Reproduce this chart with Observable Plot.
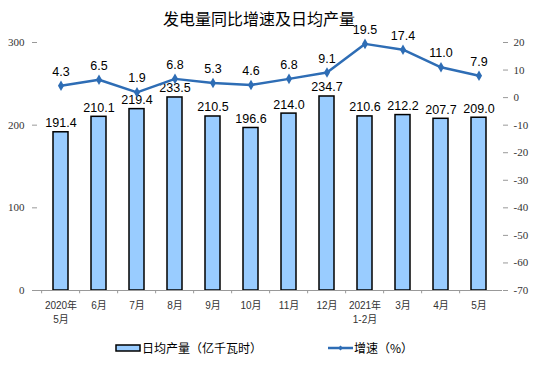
<!DOCTYPE html>
<html><head><meta charset="utf-8">
<script src="https://cdn.jsdelivr.net/npm/d3@7"></script>
<script src="https://cdn.jsdelivr.net/npm/@observablehq/plot@0.6"></script>
<style>
body{margin:0;background:#fff;width:554px;height:381px;overflow:hidden;font-family:"Liberation Sans","Noto Sans CJK SC",sans-serif;}
#title{height:20px;position:relative;z-index:2;}
#title span{position:absolute;left:163px;top:6px;font-family:"Noto Sans CJK SC";font-size:16px;color:#000;white-space:nowrap;}
#chart{height:315px;position:relative;z-index:1;}
#chart svg{background:transparent;}
#legend{position:relative;height:46px;font-family:"Noto Sans CJK SC";font-size:12px;color:#000;}
.lg{position:absolute;top:4px;display:flex;align-items:center;white-space:nowrap;}
</style></head>
<body>
<div id="title"><span>发电量同比增速及日均产量</span></div>
<div id="chart"></div>
<div id="legend">
  <div class="lg" style="left:115px"><svg width="27" height="10"><rect x="1" y="2" width="24" height="6" fill="#99ccff" stroke="#000" stroke-width="1.5"/></svg><span>日均产量（亿千瓦时）</span></div>
  <div class="lg" style="left:328px"><svg width="26" height="10"><line x1="0" y1="5" x2="25" y2="5" stroke="#2e6db5" stroke-width="2.5"/><path d="M12.5,2.5L15,5L12.5,7.5L10,5Z" fill="#2e6db5"/></svg><span>增速（%）</span></div>
</div>
<script>
const categories = ["2020年\n5月","6月","7月","8月","9月","10月","11月","12月","2021年\n1-2月","3月","4月","5月"];
const dailyOutput = [191.4,210.1,219.4,233.5,210.5,196.6,214.0,234.7,210.6,212.2,207.7,209.0];
const growth = [4.3,6.5,1.9,6.8,5.3,4.6,6.8,9.1,19.5,17.4,11.0,7.9];
const leftTicks = [0,100,200,300];
const rightTicks = [20,10,0,-10,-20,-30,-40,-50,-60,-70];

const gMin = -70, gMax = 20, yMax = 300;
const toY = g => (g - gMin) * yMax / (gMax - gMin);
const fromY = v => Math.round(v * (gMax - gMin) / yMax + gMin);

const barData = categories.map((c,i)=>({c, v: dailyOutput[i]}));
const lineData = categories.map((c,i)=>({c, g: growth[i], y: toY(growth[i])}));

const width = 554, mL = 37, mR = 52;
const step = (width - mL - mR) / categories.length;
const lineColor = "#2e6db5";

const chart = Plot.plot({
  width, height: 315,
  marginLeft: mL, marginRight: mR, marginTop: 22, marginBottom: 45,
  style: {fontFamily: "Liberation Sans, sans-serif", background: "transparent"},
  x: {domain: categories, paddingInner: 0.6, paddingOuter: 0.3, label: null},
  y: {domain: [0, yMax], label: null},
  marks: [
    Plot.ruleX(categories, {x: d => d, y1: 0, y2: -4, dx: -step/2, stroke: "#999"}),
    Plot.barY(barData, {x: "c", y: "v", fill: "#99ccff", stroke: "#000", strokeWidth: 1.5}),
    Plot.text(barData, {x: "c", y: "v", text: d => d.v.toFixed(1), dy: -9, fontSize: 12.5, fill: "#000"}),
    Plot.line(lineData, {x: "c", y: "y", stroke: lineColor, strokeWidth: 2.5}),
    Plot.dot(lineData, {x: "c", y: "y", symbol: "diamond", r: 3.2, fill: lineColor}),
    Plot.text(lineData, {x: "c", y: "y", text: d => d.g.toFixed(1), dy: -14, fontSize: 12.5, fill: "#000"}),
    Plot.ruleY([0], {stroke: "#999"}),
    Plot.axisY({anchor: "left", ticks: leftTicks, tickSize: 5, tickPadding: 8, stroke: "#999", line: true, fontFamily: "Liberation Serif, serif", fontSize: 11, color: "#333", label: null}),
    Plot.axisY({anchor: "right", ticks: rightTicks.map(toY), tickFormat: fromY, tickSize: 5, tickPadding: 6, stroke: "#999", line: true, fontFamily: "Liberation Serif, serif", fontSize: 11, color: "#333", label: null}),
    Plot.axisX({anchor: "bottom", tickSize: 0, tickPadding: 8, fontSize: 10, fill: "#333", fontFamily: "Liberation Sans, Noto Sans CJK SC, sans-serif", lineHeight: 1.45, textAnchor: "middle", label: null}),
  ]
});
document.getElementById("chart").appendChild(chart);
</script>
</body></html>
